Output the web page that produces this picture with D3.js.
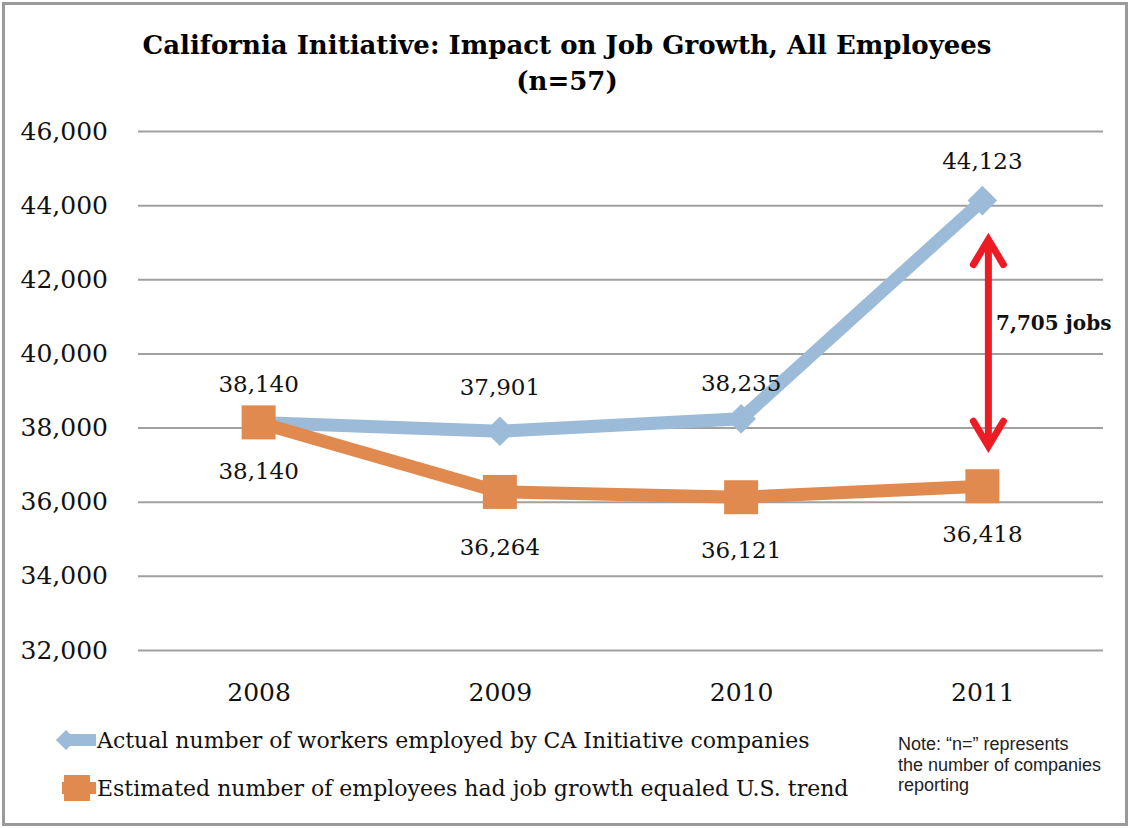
<!DOCTYPE html>
<html><head><meta charset="utf-8">
<script src="https://cdn.jsdelivr.net/npm/d3@7"></script>
<style>body{margin:0;background:#fff}svg{display:block}</style>
</head><body>
<script>
const years = ["2008","2009","2010","2011"];
const actual = [38140, 37901, 38235, 44123];
const estimated = [38140, 36264, 36121, 36418];
const yTicks = [32000,34000,36000,38000,40000,42000,44000,46000];
const seriesNames = ["Actual number of workers employed by CA Initiative companies","Estimated number of employees had job growth equaled U.S. trend"];
const gapLabel = "7,705 jobs";

const W=1129,H=828;
const svg=d3.select("body").append("svg").attr("width",W).attr("height",H);
svg.append("rect").attr("x",3.5).attr("y",3.5).attr("width",W-6).attr("height",H-7).attr("fill","#fff").attr("stroke","#9a9a9a").attr("stroke-width",3);

const serif="'DejaVu Serif',serif";
const x=d3.scalePoint().domain(years).range([138,1103]).padding(0.5);
const y=d3.scaleLinear().domain([32000,46000]).range([650,131]);

svg.append("text").attr("x",567).attr("y",54).attr("text-anchor","middle").attr("font-family",serif).attr("font-weight","bold").attr("font-size",26).text("California Initiative: Impact on Job Growth, All Employees");
svg.append("text").attr("x",567).attr("y",90).attr("text-anchor","middle").attr("font-family",serif).attr("font-weight","bold").attr("font-size",26).text("(n=57)");

const ga=svg.append("g").attr("transform","translate(138,0)").call(d3.axisLeft(y).tickValues(yTicks).tickSize(-965).tickFormat(d3.format(",")).tickPadding(30));
ga.select(".domain").remove();
ga.selectAll(".tick line").attr("stroke","#a0a0a0").attr("stroke-width",2);
ga.selectAll(".tick text").attr("font-family",serif).attr("font-size",25).attr("fill","#111");

const gx=svg.append("g").attr("transform","translate(0,650)").call(d3.axisBottom(x).tickSize(0).tickPadding(33));
gx.select(".domain").remove();
gx.selectAll(".tick text").attr("font-family",serif).attr("font-size",25).attr("fill","#111");

const blue="#9bbbd9", orange="#e08a50";
const line=d3.line().x((d,i)=>x(years[i])).y(d=>y(d));
svg.append("path").datum(actual).attr("d",line).attr("fill","none").attr("stroke",blue).attr("stroke-width",13).attr("stroke-linejoin","miter");
svg.selectAll(".dia").data(actual).enter().append("path").attr("d",d3.symbol(d3.symbolDiamond2,560)).attr("transform",(d,i)=>`translate(${x(years[i])},${y(d)})`).attr("fill",blue);
svg.append("path").datum(estimated).attr("d",line).attr("fill","none").attr("stroke",orange).attr("stroke-width",13);
svg.selectAll(".sq").data(estimated).enter().append("rect").attr("x",(d,i)=>x(years[i])-17).attr("y",d=>y(d)-17).attr("width",34).attr("height",34).attr("fill",orange);

const fmt=d3.format(",");
const aOff=[[0,-30],[0,-36],[0,-28],[0,-32]];
svg.selectAll(".al").data(actual).enter().append("text").attr("x",(d,i)=>x(years[i])+aOff[i][0]).attr("y",(d,i)=>y(d)+aOff[i][1]).attr("text-anchor","middle").attr("font-family",serif).attr("font-size",23).attr("fill","#111").text(d=>fmt(d));
const eOff=[[0,57],[0,63],[0,61],[0,56]];
svg.selectAll(".el").data(estimated).enter().append("text").attr("x",(d,i)=>x(years[i])+eOff[i][0]).attr("y",(d,i)=>y(d)+eOff[i][1]).attr("text-anchor","middle").attr("font-family",serif).attr("font-size",23).attr("fill","#111").text(d=>fmt(d));

// red double arrow
const ax=x("2011")+6, yTop=y(actual[3])+36, yBot=y(estimated[3])-37;
const red="#ed1c24";
svg.append("line").attr("x1",ax).attr("x2",ax).attr("y1",yTop+4).attr("y2",yBot-4).attr("stroke",red).attr("stroke-width",7);
svg.append("path").attr("d",`M${ax-15},${yTop+28} L${ax},${yTop+3} L${ax+15},${yTop+28}`).attr("fill","none").attr("stroke",red).attr("stroke-width",7).attr("stroke-linecap","round").attr("stroke-linejoin","miter");
svg.append("path").attr("d",`M${ax-15},${yBot-28} L${ax},${yBot-3} L${ax+15},${yBot-28}`).attr("fill","none").attr("stroke",red).attr("stroke-width",7).attr("stroke-linecap","round").attr("stroke-linejoin","miter");
svg.append("text").attr("x",996).attr("y",330).attr("font-family",serif).attr("font-weight","bold").attr("font-size",20).attr("fill","#111").text(gapLabel);

// legend
const leg=[{c:blue,sym:"dia",y:740},{c:orange,sym:"sq",y:788}];
leg.forEach((l,i)=>{
  svg.append("line").attr("x1",62).attr("x2",96).attr("y1",l.y).attr("y2",l.y).attr("stroke",l.c).attr("stroke-width",12);
  if(l.sym==="dia") svg.append("path").attr("d",d3.symbol(d3.symbolDiamond2,260)).attr("transform",`translate(66,${l.y})`).attr("fill",l.c);
  else svg.append("rect").attr("x",64).attr("y",l.y-13).attr("width",26).attr("height",26).attr("fill",l.c);
  svg.append("text").attr("x",97).attr("y",l.y+8).attr("font-family",serif).attr("font-size",22).attr("fill","#111").text(seriesNames[i]);
});
const note=["Note: \u201cn=\u201d represents","the number of companies","reporting"];
svg.selectAll(".note").data(note).enter().append("text").attr("x",898).attr("y",(d,i)=>750+i*20.5).attr("font-family","'Liberation Sans',sans-serif").attr("font-size",18).attr("fill","#222").text(d=>d);
</script>
</body></html>
